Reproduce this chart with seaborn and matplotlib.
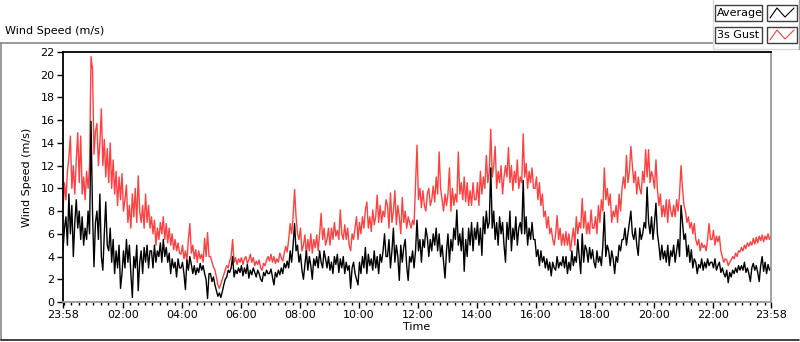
import numpy as np
import pandas as pd
import matplotlib
matplotlib.use("Agg")
import matplotlib.pyplot as plt
from matplotlib.lines import Line2D
from matplotlib.patches import Rectangle
import seaborn as sns

# ---- data: 3-minute samples starting at 23:58, one row per hour ----
gust_rows = [
    [8.0, 10.5, 9.0, 11.5, 12.7, 14.6, 10.0, 12.0, 9.5, 12.5, 14.9, 10.5, 14.6, 9.5, 11.0, 9.0, 11.5, 10.0, 12.0, 21.6],
    [20.5, 13.0, 15.0, 15.7, 12.0, 14.0, 17.0, 12.0, 14.3, 11.0, 13.5, 10.5, 14.0, 10.0, 12.5, 9.5, 11.5, 8.5, 11.0, 9.0],
    [11.3, 8.0, 9.0, 10.3, 7.0, 8.5, 6.5, 9.5, 7.5, 10.0, 7.0, 11.1, 8.0, 7.0, 8.5, 6.5, 9.5, 7.0, 8.5, 6.5],
    [7.5, 6.0, 7.2, 5.0, 6.5, 5.5, 7.0, 6.0, 7.5, 5.5, 6.9, 5.2, 6.5, 5.0, 6.0, 4.6, 5.5, 4.5, 5.2, 4.3],
    [4.2, 5.0, 3.8, 4.5, 3.6, 5.5, 6.9, 4.3, 5.0, 3.8, 4.6, 3.5, 4.5, 3.8, 4.2, 3.5, 5.6, 4.0, 6.1, 4.0],
    [4.0, 3.5, 3.1, 2.8, 2.2, 1.5, 1.2, 1.6, 2.0, 2.4, 2.8, 3.2, 3.0, 3.6, 4.0, 5.5, 3.5, 3.9, 3.3, 3.8],
    [3.5, 3.9, 3.3, 3.8, 4.0, 3.4, 3.7, 4.2, 3.5, 3.9, 3.2, 3.6, 3.3, 3.7, 3.0, 2.8, 3.4, 3.2, 3.7, 4.0],
    [3.6, 4.2, 3.5, 4.0, 3.4, 3.8, 3.5, 4.3, 3.9, 3.6, 4.3, 4.9, 4.4, 5.5, 6.9, 6.0, 7.5, 9.9, 7.5, 6.0],
    [5.5, 6.5, 4.5, 5.0, 5.9, 4.2, 5.5, 4.5, 6.0, 4.3, 5.5, 4.8, 5.9, 4.5, 6.0, 7.8, 5.5, 6.5, 5.0, 5.5],
    [6.5, 5.0, 6.5, 5.5, 7.0, 5.8, 6.3, 5.5, 8.1, 6.0, 5.5, 6.8, 5.5, 6.5, 5.0, 4.5, 6.0, 5.5, 6.5, 7.5],
    [5.5, 7.0, 6.0, 7.5, 6.5, 8.1, 8.8, 6.5, 7.5, 6.2, 8.1, 6.8, 7.5, 9.4, 7.0, 8.5, 7.0, 8.0, 7.5, 9.0],
    [8.5, 6.5, 9.6, 7.0, 8.0, 9.8, 6.8, 8.5, 7.5, 6.0, 9.2, 7.0, 8.0, 6.5, 7.5, 7.0, 6.5, 7.2, 6.8, 10.4],
    [13.8, 9.0, 10.0, 8.3, 9.8, 8.5, 8.0, 9.5, 10.0, 8.5, 9.0, 10.2, 8.8, 11.0, 9.5, 13.2, 10.0, 9.0, 8.0, 9.5],
    [8.5, 9.5, 11.8, 8.0, 10.0, 8.5, 9.5, 8.8, 13.2, 9.5, 10.5, 9.0, 11.0, 8.8, 10.5, 8.5, 9.8, 8.5, 10.5, 9.0],
    [9.0, 10.5, 8.5, 11.5, 9.5, 11.0, 10.0, 12.9, 10.5, 11.5, 15.2, 11.0, 12.0, 13.7, 10.0, 11.5, 10.5, 12.0, 9.5, 11.0],
    [12.0, 11.0, 13.6, 10.5, 12.0, 9.8, 11.5, 10.5, 12.5, 10.0, 11.0, 10.5, 14.8, 11.0, 12.2, 10.0, 11.5, 10.5, 11.8, 10.0],
    [10.0, 11.0, 9.0, 10.5, 8.5, 9.5, 7.5, 8.0, 6.5, 7.5, 6.0, 6.5, 5.5, 5.0, 6.0, 7.6, 5.5, 6.5, 5.0, 6.0],
    [5.0, 6.2, 5.0, 6.0, 4.5, 5.5, 6.5, 5.0, 7.5, 6.0, 7.0, 6.5, 9.1, 6.5, 8.0, 6.0, 7.0, 6.0, 8.1, 6.5],
    [6.5, 7.5, 6.0, 8.5, 7.0, 9.0, 8.0, 11.8, 9.0, 10.0, 8.5, 9.5, 7.0, 8.0, 7.5, 8.5, 7.0, 9.5, 8.0, 10.0],
    [11.0, 10.0, 12.9, 10.5, 11.5, 13.7, 12.0, 10.5, 11.5, 9.5, 11.0, 10.0, 9.5, 11.5, 10.5, 13.4, 11.0, 13.4, 10.5, 11.5],
    [11.0, 10.0, 12.5, 9.9, 8.5, 9.5, 7.5, 8.5, 7.5, 9.0, 7.0, 9.0, 8.0, 7.5, 8.5, 7.5, 9.0, 8.0, 9.5, 12.0],
    [10.0, 8.5, 8.0, 7.0, 7.5, 6.5, 7.0, 6.0, 6.9, 5.5, 5.0, 5.5, 4.5, 5.2, 4.8, 5.0, 4.5, 5.5, 6.9, 5.5],
    [5.5, 6.3, 5.0, 5.8, 5.3, 5.8, 4.5, 4.0, 3.5, 3.8, 3.7, 3.2, 3.5, 3.7, 4.0, 3.8, 4.3, 4.0, 4.5, 4.4],
    [4.8, 4.5, 5.0, 4.7, 5.2, 4.9, 5.3, 5.0, 5.6, 5.1, 5.7, 5.2, 5.8, 5.4, 5.9, 5.3, 5.8, 5.5, 6.0, 5.5],
    [5.8],
]

average_rows = [
    [4.5, 6.5, 7.5, 5.0, 9.5, 6.0, 8.5, 4.0, 7.0, 9.0, 6.5, 8.0, 5.5, 7.5, 5.0, 6.5, 5.5, 8.0, 6.0, 15.9],
    [8.0, 3.1, 7.0, 8.0, 5.5, 9.5, 4.0, 2.8, 6.0, 8.8, 5.0, 4.5, 6.5, 3.5, 5.5, 2.5, 4.5, 3.0, 5.0, 1.2],
    [2.5, 4.5, 3.0, 5.5, 3.5, 5.0, 2.5, 0.4, 4.0, 3.0, 5.0, 1.0, 3.5, 4.5, 2.5, 4.8, 3.5, 5.0, 3.0, 4.5],
    [4.5, 3.0, 5.0, 3.5, 4.5, 4.0, 5.2, 3.5, 5.5, 4.0, 4.8, 3.5, 4.3, 2.5, 3.8, 3.0, 3.5, 2.2, 3.8, 3.0],
    [3.0, 3.5, 2.5, 1.1, 3.7, 2.8, 4.0, 3.3, 2.5, 3.2, 2.4, 3.0, 2.6, 3.4, 2.8, 3.2, 2.5, 2.0, 0.3, 2.5],
    [2.5, 1.8, 2.2, 1.5, 1.0, 0.5, 0.8, 0.4, 0.9, 1.5, 2.0, 2.2, 2.8, 2.6, 3.0, 4.0, 2.2, 2.8, 2.5, 3.0],
    [2.6, 3.2, 2.3, 3.0, 2.5, 3.3, 2.1, 2.8, 2.4, 3.0, 2.6, 2.2, 2.8, 2.5, 2.0, 1.8, 2.6, 2.3, 2.8, 2.5],
    [2.5, 2.9, 2.2, 1.5, 2.6, 2.2, 2.8, 2.4, 3.0, 2.5, 3.4, 3.0, 3.6, 3.0, 4.5, 3.5, 5.0, 6.9, 4.5, 5.0],
    [3.5, 4.2, 2.8, 2.0, 3.3, 4.5, 2.8, 4.0, 3.2, 2.0, 3.8, 3.2, 4.0, 3.0, 4.5, 3.5, 3.0, 4.5, 3.8, 3.0],
    [4.0, 2.8, 3.5, 2.5, 4.0, 3.3, 4.2, 2.6, 3.8, 3.0, 4.0, 2.5, 3.5, 2.8, 3.2, 1.2, 3.0, 3.5, 2.5, 2.0],
    [1.5, 3.5, 2.5, 4.0, 3.0, 4.8, 2.5, 4.2, 3.2, 3.8, 2.8, 4.5, 3.0, 4.0, 2.5, 4.2, 3.5, 4.5, 6.0, 4.0],
    [4.0, 5.5, 3.0, 4.5, 6.5, 3.5, 5.0, 4.0, 1.9, 5.0, 3.5, 4.8, 5.5, 3.2, 1.9, 4.0, 3.5, 4.5, 3.0, 4.5],
    [7.2, 4.5, 5.5, 3.5, 5.5, 4.8, 6.5, 5.7, 4.0, 5.5, 4.5, 6.0, 5.0, 6.5, 4.5, 6.0, 4.0, 5.0, 3.5, 2.1],
    [4.5, 6.0, 3.5, 5.5, 4.5, 6.5, 5.5, 8.1, 5.0, 6.0, 4.5, 6.5, 2.7, 5.5, 4.0, 6.5, 5.0, 7.0, 4.5, 6.5],
    [5.5, 7.0, 5.0, 6.5, 4.1, 7.5, 6.0, 8.0, 6.5, 7.0, 11.8, 6.5, 8.0, 5.5, 7.0, 5.0, 7.5, 6.0, 7.0, 5.0],
    [3.5, 7.0, 5.5, 8.0, 4.5, 6.5, 5.5, 7.5, 5.0, 6.5, 7.0, 6.0, 10.7, 6.0, 7.5, 5.0, 6.5, 5.5, 7.0, 5.5],
    [5.5, 4.0, 4.6, 3.2, 4.5, 3.5, 4.0, 3.0, 3.8, 2.8, 3.5, 2.3, 3.5, 3.0, 2.8, 4.0, 3.0, 3.5, 3.2, 4.0],
    [3.0, 4.0, 2.5, 3.5, 2.8, 4.5, 3.2, 4.0, 3.5, 5.5, 4.0, 2.5, 6.0, 3.5, 5.0, 4.6, 3.5, 4.8, 3.8, 4.6],
    [3.5, 3.0, 4.5, 3.5, 4.0, 3.2, 5.0, 7.9, 4.0, 5.0, 4.5, 3.2, 4.5, 3.8, 2.5, 4.0, 3.5, 5.0, 4.5, 5.5],
    [5.5, 6.5, 5.0, 6.0, 7.0, 8.0, 6.0, 5.5, 6.5, 5.0, 4.1, 6.5, 5.5, 6.0, 7.0, 6.5, 10.1, 7.0, 6.0, 7.5],
    [5.5, 7.0, 8.7, 6.0, 5.0, 3.7, 5.0, 3.8, 4.5, 3.5, 5.0, 3.2, 4.5, 4.0, 5.0, 3.5, 4.5, 5.5, 4.0, 8.5],
    [7.0, 5.5, 6.0, 4.0, 5.0, 3.5, 4.6, 3.0, 3.8, 3.5, 2.5, 3.3, 3.0, 3.8, 2.8, 3.5, 3.0, 3.8, 3.2, 3.5],
    [3.5, 3.0, 3.8, 2.8, 3.2, 3.5, 2.6, 3.0, 2.5, 2.2, 2.8, 1.7, 2.6, 2.2, 2.8, 2.5, 3.0, 2.6, 3.2, 2.8],
    [3.2, 2.8, 3.5, 2.6, 3.0, 2.5, 1.8, 3.0, 3.4, 2.8, 3.2, 2.6, 1.8, 3.2, 4.0, 2.7, 3.5, 2.5, 3.3, 2.8],
    [3.0],
]

gust = [v for row in gust_rows for v in row]
average = [v for row in average_rows for v in row]
step_minutes = 3                          # sample spacing, minutes after 23:58
tick_minutes = [0, 122, 242, 362, 482, 602, 722, 842, 962, 1082, 1202, 1322, 1440]
tick_labels = ["23:58", "02:00", "04:00", "06:00", "08:00", "10:00", "12:00",
               "14:00", "16:00", "18:00", "20:00", "22:00", "23:58"]
y_ticks = list(range(0, 23, 2))

df_gust = pd.DataFrame({"minute": np.arange(len(gust)) * step_minutes, "speed": gust})
df_avg = pd.DataFrame({"minute": np.arange(len(average)) * step_minutes, "speed": average})

sns.set_style("white")
plt.rcParams["font.family"] = ["DejaVu Sans"]
plt.rcParams["font.size"] = 8
plt.rcParams["text.color"] = "black"
plt.rcParams["axes.labelcolor"] = "black"
plt.rcParams["xtick.color"] = "black"
plt.rcParams["ytick.color"] = "black"

W, H = 800, 342
fig = plt.figure(figsize=(W / 100, H / 100), dpi=100)
ax = fig.add_axes([63 / W, 1 - 302 / H, (771 - 63) / W, (302 - 52) / H])

sns.lineplot(data=df_gust, x="minute", y="speed", color="#ff4040", linewidth=1.0, ax=ax)
sns.lineplot(data=df_avg, x="minute", y="speed", color="black", linewidth=1.0, ax=ax)

ax.set_xlim(0, 1440)
ax.set_ylim(0, 22)
ax.set_xticks(tick_minutes)
ax.set_xticklabels(tick_labels)
minor = [m for m in range(2, 1440, 15) if m not in tick_minutes]
ax.set_xticks(minor, minor=True)
ax.set_yticks(y_ticks)
ax.tick_params(axis="both", which="major", direction="out", length=4, width=1,
               color="black", labelcolor="black", labelsize=8, pad=2, left=True, bottom=True)
ax.tick_params(axis="x", which="minor", direction="out", length=2.5, width=1,
               color="black", bottom=True)
ax.set_xlabel("Time", fontsize=8, labelpad=1, color="black")
ax.set_ylabel("Wind Speed (m/s)", fontsize=8, labelpad=6, color="black")

for side in ["top", "left"]:
    ax.spines[side].set_color("black")
    ax.spines[side].set_linewidth(1.3)
for side in ["bottom", "right"]:
    ax.spines[side].set_color("#9a9a9a")
    ax.spines[side].set_linewidth(1.3)

def fx(x):
    return x / W

def fy(y):
    return 1 - y / H

# panel frame
fig.add_artist(Line2D([fx(0), fx(713)], [fy(42.5), fy(42.5)], color="#8a8a8a", lw=1.2))
fig.add_artist(Line2D([fx(1), fx(1)], [fy(42.5), fy(340)], color="#8a8a8a", lw=1.2))
fig.add_artist(Line2D([fx(1), fx(799)], [fy(340), fy(340)], color="#202020", lw=1.2))
# legend frame
fig.add_artist(Line2D([fx(713), fx(713)], [fy(0), fy(49)], color="#d8d8d8", lw=1))
fig.add_artist(Line2D([fx(713), fx(800)], [fy(49), fy(49)], color="#d8d8d8", lw=1))
fig.add_artist(Line2D([fx(799), fx(799)], [fy(0), fy(49)], color="#a0a0a0", lw=1))

fig.text(fx(5), fy(31), "Wind Speed (m/s)", ha="left", va="center", fontsize=8, color="black")

for (label, col, top) in [("Average", "black", 5), ("3s Gust", "#ff4040", 27)]:
    fig.add_artist(Rectangle((fx(715), fy(top + 16)), 47 / W, 16 / H,
                             facecolor="white", edgecolor="#404040", lw=1))
    fig.text(fx(717), fy(top + 8), label, ha="left", va="center", fontsize=8, color="black")
    fig.add_artist(Rectangle((fx(767), fy(top + 16)), 30 / W, 16 / H,
                             facecolor="white", edgecolor="#404040", lw=1))
    fig.add_artist(Line2D([fx(770), fx(777), fx(785), fx(794)],
                          [fy(top + 13), fy(top + 3), fy(top + 12), fy(top + 3)],
                          color=col, lw=0.8))

fig.savefig("out.png", dpi=100)
